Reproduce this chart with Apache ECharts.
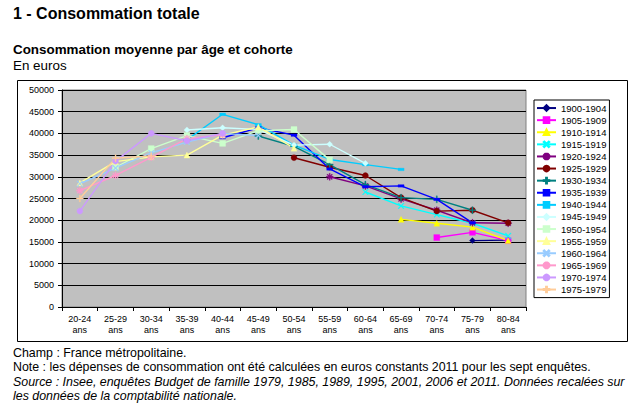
<!DOCTYPE html>
<html><head><meta charset="utf-8">
<script src="https://cdn.jsdelivr.net/npm/echarts@6/dist/echarts.min.js"></script>
<style>
html,body{margin:0;padding:0;background:#fff;}
body{width:640px;height:410px;position:relative;overflow:hidden;font-family:"Liberation Sans",Arial,sans-serif;color:#000;}
#chart{position:absolute;left:0;top:0;width:640px;height:410px;}
.t{position:absolute;white-space:nowrap;z-index:5;}
</style></head>
<body>
<div id="chart"></div>
<div class="t" style="left:13px;top:6px;font-size:16px;line-height:16px;font-weight:bold;">1 - Consommation totale</div>
<div class="t" style="left:13px;top:43px;font-size:13.4px;line-height:14px;font-weight:bold;">Consommation moyenne par âge et cohorte</div>
<div class="t" style="left:13px;top:59px;font-size:13.4px;line-height:14px;">En euros</div>
<div class="t" style="left:13px;top:346px;font-size:12.4px;line-height:14.3px;">Champ : France métropolitaine.<br>Note : les dépenses de consommation ont été calculées en euros constants 2011 pour les sept enquêtes.<br><i>Source : Insee, enquêtes Budget de famille 1979, 1985, 1989, 1995, 2001, 2006 et 2011. Données recalées sur<br>les données de la comptabilité nationale.</i></div>
<script>
// Age groups (x-axis)
var ageGroups = ['20-24','25-29','30-34','35-39','40-44','45-49','50-54','55-59','60-64','65-69','70-74','75-79','80-84'];
var ageSuffix = 'ans';
// Cohort names
var cohorts = ['1900-1904','1905-1909','1910-1914','1915-1919','1920-1924','1925-1929','1930-1934','1935-1939',
               '1940-1944','1945-1949','1950-1954','1955-1959','1960-1964','1965-1969','1970-1974','1975-1979'];
// Values (euros) per age group, null where cohort not observed
var c1900 = [null,null,null,null,null,null,null,null,null,null,null,15300,15400];
var c1905 = [null,null,null,null,null,null,null,null,null,null,16000,17200,15300];
var c1910 = [null,null,null,null,null,null,null,null,null,20200,19300,18400,15300];
var c1915 = [null,null,null,null,null,null,null,null,26500,23300,21300,19300,16400];
var c1920 = [null,null,null,null,null,null,null,30000,27900,24900,22300,19400,19300];
var c1925 = [null,null,null,null,null,null,34400,32200,30300,25200,22100,22300,19400];
var c1930 = [null,null,null,null,null,39400,37000,32800,28200,25200,24800,22300,null];
var c1935 = [null,null,null,null,39000,41300,39600,31800,27700,27900,24800,19400,null];
var c1940 = [null,null,null,38500,44400,42000,37300,34000,32800,31700,null,null,null];
var c1945 = [null,null,null,40800,41300,40900,37300,37500,33100,null,null,null,null];
var c1950 = [null,32200,36500,39500,37700,40600,40900,33900,null,null,null,null,null];
var c1955 = [28600,33500,34600,35000,39600,41500,36600,null,null,null,null,null,null];
var c1960 = [28400,32000,35500,38000,40000,39500,null,null,null,null,null,null,null];
var c1965 = [26800,30300,34500,38800,39700,null,null,null,null,null,null,null,null];
var c1970 = [22100,33600,40000,38300,40000,null,null,null,null,null,null,null,null];
var c1975 = [25000,34300,34800,null,null,null,null,null,null,null,null,null,null];
var yTicks = {min:0, max:50000, interval:5000};

var values = [c1900,c1905,c1910,c1915,c1920,c1925,c1930,c1935,c1940,c1945,c1950,c1955,c1960,c1965,c1970,c1975];
var colors = ['#000080','#FF00FF','#FFFF00','#00FFFF','#800080','#800000','#008080','#0000FF',
              '#00CCFF','#CCFFFF','#CCFFCC','#FFFF99','#99CCFF','#FF99CC','#CC99FF','#FFCC99'];
var X = 'path://M1,0L5,4L9,0L10,1L6,5L10,9L9,10L5,6L1,10L0,9L4,5L0,1Z';
var PLUS = 'path://M4.2,0H5.8V4.2H10V5.8H5.8V10H4.2V5.8H0V4.2H4.2Z';
var STAR = 'path://M4.3,0H5.7V3.3L8.1,0.9L9.1,1.9L6.7,4.3H10V5.7H6.7L9.1,8.1L8.1,9.1L5.7,6.7V10H4.3V6.7L1.9,9.1L0.9,8.1L3.3,5.7H0V4.3H3.3L0.9,1.9L1.9,0.9L4.3,3.3Z';
var markers = ['diamond','rect','triangle',X,STAR,'circle',PLUS,'rect','rect','diamond','rect','triangle',X,STAR,'circle',PLUS];
var sizes = [6,6,6,6,7,6,7,[6,2.5],[6,2.5],6,6,6,6,7,6,7];

var series = cohorts.map(function(name,i){
  return {
    name:name, type:'line', data:values[i],
    symbol:markers[i], symbolSize:sizes[i], showSymbol:true,
    lineStyle:{color:colors[i], width:1.4},
    itemStyle:{color:colors[i], borderColor:colors[i], borderWidth:0.3},
    emphasis:{disabled:true}, animation:false, connectNulls:false
  };
});

var chart = echarts.init(document.getElementById('chart'), null, {renderer:'svg'});
chart.setOption({
  animation:false,
  textStyle:{fontFamily:'Liberation Sans'},
  graphic:[{type:'rect', shape:{x:17.5,y:80.5,width:610,height:261}, style:{fill:'none', stroke:'#000', lineWidth:1}, z:-10}],
  grid:{left:62, top:90, width:464, height:217, show:true, backgroundColor:'#C0C0C0', borderColor:'#808080', borderWidth:1},
  legend:{
    orient:'vertical', left:534, top:100, padding:[2,3,2,2],
    itemWidth:19, itemHeight:7, itemGap:0,
    borderColor:'#000', borderWidth:1, backgroundColor:'#fff',
    textStyle:{fontSize:9.5, color:'#000', fontFamily:'Liberation Sans', lineHeight:12.1},
    data:cohorts
  },
  xAxis:{
    type:'category', data:ageGroups, boundaryGap:true,
    axisLine:{lineStyle:{color:'#000', width:1}},
    axisTick:{show:true, length:4, lineStyle:{color:'#000'}},
    axisLabel:{color:'#000', fontSize:9, margin:6, lineHeight:11, interval:0,
      formatter:function(v){return v+'\n'+ageSuffix;}},
    splitLine:{show:false}
  },
  yAxis:{
    type:'value', min:yTicks.min, max:yTicks.max, interval:yTicks.interval,
    axisLine:{show:true, lineStyle:{color:'#000', width:1}},
    axisTick:{show:true, length:4, lineStyle:{color:'#000'}},
    axisLabel:{color:'#000', fontSize:9, margin:8, formatter:function(v){return String(v);}},
    splitLine:{show:true, lineStyle:{color:'#000', width:1}}
  },
  series:series
});
</script>
</body></html>
